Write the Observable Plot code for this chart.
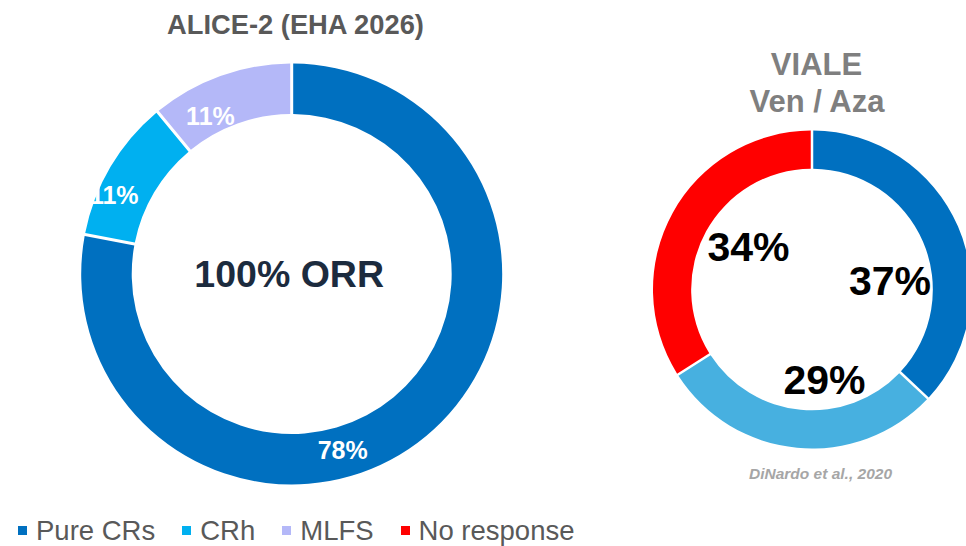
<!DOCTYPE html>
<html>
<head>
<meta charset="utf-8">
<script src="https://cdn.jsdelivr.net/npm/d3@7"></script>
<script src="https://cdn.jsdelivr.net/npm/@observablehq/plot@0.6"></script>
<style>
html, body { margin: 0; padding: 0; background: #fff; overflow: hidden; }
#root { position: relative; width: 966px; height: 546px; font-family: "Liberation Sans", Arial, sans-serif; }
#left { position: absolute; left: 0; top: 0; }
#right { position: absolute; left: 590px; top: 0; }
#legend { position: absolute; left: 18px; top: 514px; }
.lg-swatch > svg { margin-right: 9px !important; }
.lg-swatch { margin-right: 27px !important; }
</style>
</head>
<body>
<div id="root"><div id="left"></div><div id="right"></div><div id="legend"></div></div>
<script>
// ---------- data ----------
const aliceTitle = "ALICE-2 (EHA 2026)";
const aliceCenterLabel = "100% ORR";
const aliceCategories = ["Pure CRs", "CRh", "MLFS"];
const aliceValues = [78, 11, 11];
const aliceColors = ["#0070C0", "#00B0F0", "#B4B8F8"];

const vialeTitle = ["VIALE", "Ven / Aza"];
const vialeCaption = "DiNardo et al., 2020";
const vialeCategories = ["Pure CRs", "CRh", "No response"];
const vialeValues = [37, 29, 34];
const vialeColors = ["#0070C0", "#47B0E0", "#FF0000"];

const legendCategories = ["Pure CRs", "CRh", "MLFS", "No response"];
const legendColors = ["#0070C0", "#00B0F0", "#B4B8F8", "#FF0000"];

// ---------- layout (positions / sizes / styles) ----------
const FONT = "'Liberation Sans', Arial, sans-serif";
const leftLayout = {
  width: 590, height: 505, cx: 291.7, cy: 274, R: 210.5, inner: 0.76, gap: 3,
  labelR: 0.88, labelSize: 25, labelFill: "white",
  nudges: [[-67.6, 33.5], [-18.5, 16], [-19, 16.6]]
};
const rightLayout = {
  width: 376, height: 505, cx: 222, cy: 289.5, R: 159, inner: 0.76, gap: 2.5,
  labelR: 0.5, labelSize: 41, labelFill: "black",
  nudges: [[4.5, 23.6], [19.5, 11.3], [5.7, -4.2]]
};

function tableOf(categories, values) {
  return categories.map((category, i) => ({category, value: values[i]}));
}

function sliceLabels(table, L) {
  const slices = d3.pie().sort(null).value(d => d.value)(table);
  return slices.map((s, i) => {
    const mid = (s.startAngle + s.endAngle) / 2;
    const [ndx, ndy] = L.nudges[i];
    return {
      text: s.data.value + "%",
      x: L.labelR * Math.sin(mid) + ndx / L.R,
      y: L.labelR * Math.cos(mid) - ndy / L.R
    };
  });
}

function ringMark(table, L, domain, range) {
  const slices = d3.pie().sort(null).value(d => d.value)(table);
  return (index, scales) => {
    const cx = scales.x(0), cy = scales.y(0);
    const R = Math.abs(scales.x(1) - cx);
    const color = scales.color ?? Plot.scale({color: {domain, range}}).apply;
    const arc = d3.arc().innerRadius(R * L.inner).outerRadius(R)
      .padRadius(R).padAngle(L.gap / R);
    const g = d3.create("svg:g").attr("transform", `translate(${cx},${cy})`);
    g.selectAll("path").data(slices).join("path")
      .attr("d", arc)
      .attr("fill", d => color(d.data.category));
    return g.node();
  };
}

function basePlot(L, domain, range, marks) {
  return Plot.plot({
    width: L.width, height: L.height, margin: 0,
    x: {domain: [-1, 1], range: [L.cx - L.R, L.cx + L.R], axis: null},
    y: {domain: [-1, 1], range: [L.cy + L.R, L.cy - L.R], axis: null},
    color: {domain, range},
    style: {fontFamily: FONT, background: "transparent", overflow: "visible"},
    marks
  });
}

// ---------- left: ALICE-2 ----------
const aliceTable = tableOf(aliceCategories, aliceValues);
const leftPlot = basePlot(leftLayout, aliceCategories, aliceColors, [
  ringMark(aliceTable, leftLayout, aliceCategories, aliceColors),
  Plot.text(sliceLabels(aliceTable, leftLayout), {
    x: "x", y: "y", text: "text", fill: leftLayout.labelFill,
    fontSize: leftLayout.labelSize, fontWeight: "bold", textAnchor: "middle", lineAnchor: "middle"
  }),
  Plot.text([aliceCenterLabel], {
    x: 0, y: 0, text: d => d, dx: -3, fill: "#1C2B3E", fontSize: 37.5, fontWeight: "bold",
    textAnchor: "middle", lineAnchor: "middle"
  }),
  Plot.text([aliceTitle], {
    frameAnchor: "top", dy: 24.5, text: d => d, fill: "#595959", fontSize: 27.3,
    fontWeight: "bold", textAnchor: "middle", lineAnchor: "middle"
  })
]);
document.getElementById("left").append(leftPlot);

// ---------- right: VIALE ----------
const vialeTable = tableOf(vialeCategories, vialeValues);
const rightPlot = basePlot(rightLayout, vialeCategories, vialeColors, [
  ringMark(vialeTable, rightLayout, vialeCategories, vialeColors),
  Plot.text(sliceLabels(vialeTable, rightLayout), {
    x: "x", y: "y", text: "text", fill: rightLayout.labelFill,
    fontSize: rightLayout.labelSize, fontWeight: "bold", textAnchor: "middle", lineAnchor: "middle"
  }),
  Plot.text([vialeTitle[0]], {
    x: 0, frameAnchor: "top", dy: 65, dx: 4, text: d => d, fill: "#7F7F7F", fontSize: 31,
    fontWeight: "bold", textAnchor: "middle", lineAnchor: "middle"
  }),
  Plot.text([vialeTitle[1]], {
    x: 0, frameAnchor: "top", dy: 102, dx: 4.5, text: d => d, fill: "#7F7F7F", fontSize: 31,
    fontWeight: "bold", textAnchor: "middle", lineAnchor: "middle"
  }),
  Plot.text([vialeCaption], {
    x: 0, frameAnchor: "top", dy: 474, dx: 8, text: d => d, fill: "#A6A6A6", fontSize: 15.5,
    fontWeight: "bold", fontStyle: "italic", textAnchor: "middle", lineAnchor: "middle"
  })
]);
document.getElementById("right").append(rightPlot);

// ---------- legend ----------
const legend = Plot.legend({
  color: {type: "categorical", domain: legendCategories, range: legendColors},
  legend: "swatches", swatchSize: 9, className: "lg",
  style: {fontSize: "27.5px", fontFamily: FONT, color: "#595959", marginBottom: "0"}
});
document.getElementById("legend").append(legend);
</script>
</body>
</html>
